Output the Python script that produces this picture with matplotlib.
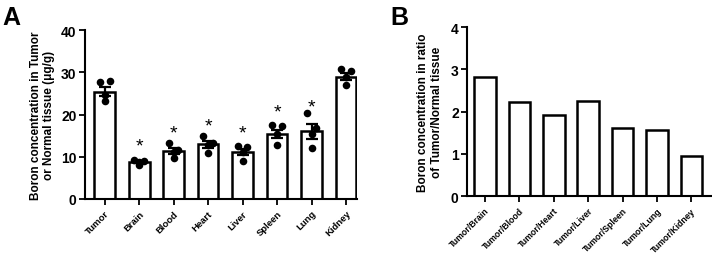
import matplotlib
matplotlib.use("Agg")
import matplotlib.pyplot as plt
import numpy as np

plt.rcParams['font.family'] = ['Liberation Sans', 'DejaVu Sans']
plt.rcParams['font.weight'] = 'bold'

# Panel A data
tissues = ["Tumor", "Brain", "Blood", "Heart", "Liver", "Spleen", "Lung", "Kidney"]
means_a = [25.4, 8.8, 11.3, 12.9, 11.2, 15.4, 16.0, 29.0]
sems_a = [1.1, 0.3, 0.7, 0.8, 0.7, 1.0, 1.7, 0.9]
points_a = [
    [27.6, 28.0, 24.6, 23.2],
    [9.3, 9.1, 8.8, 8.0],
    [13.2, 11.6, 11.0, 9.6],
    [15.0, 13.3, 12.8, 10.9],
    [12.6, 12.3, 11.0, 9.1],
    [17.6, 17.2, 15.5, 12.8],
    [20.3, 16.8, 15.5, 12.1],
    [30.9, 30.2, 28.8, 27.0],
]
significant = [False, True, True, True, True, True, True, False]
star_y = [None, 12.6, 15.6, 17.2, 15.6, 20.7, 21.9, None]

# Panel B data
ratios = ["Tumor/Brain", "Tumor/Blood", "Tumor/Heart", "Tumor/Liver",
          "Tumor/Spleen", "Tumor/Lung", "Tumor/Kidney"]
ratio_vals = [2.83, 2.22, 1.93, 2.25, 1.62, 1.56, 0.95]

fig = plt.figure(figsize=(7.12, 2.55), dpi=100)
axA = fig.add_axes([0.119, 0.216, 0.383, 0.662])
axB = fig.add_axes([0.656, 0.227, 0.343, 0.663])

lw = 1.8
xa = np.arange(len(tissues))
axA.bar(xa, means_a, width=0.6, facecolor='white', edgecolor='black', linewidth=lw, zorder=1)
axA.errorbar(xa, means_a, yerr=sems_a, fmt='none', ecolor='black', elinewidth=1.6,
             capsize=4.5, capthick=1.6, zorder=3)
offsets = [-0.14, 0.14, 0.0, 0.0]
for i, pts in enumerate(points_a):
    xs = [xa[i] + o for o in offsets]
    axA.scatter(xs, pts, s=30, color='black', zorder=4, linewidths=0)
for i, sig in enumerate(significant):
    if sig:
        axA.text(xa[i], star_y[i], "*", ha='center', va='center', fontsize=14, fontweight='normal')

axA.set_xlim(-0.58, 7.33)
axA.set_ylim(0, 40)
axA.set_yticks([0, 10, 20, 30, 40])
axA.set_xticks(xa)
axA.set_xticklabels(tissues, rotation=45, ha='right', rotation_mode='anchor', fontsize=6.8, fontweight='bold')
axA.set_ylabel("Boron concentration in Tumor\nor Normal tissue (μg/g)", fontsize=8.5, fontweight='bold', labelpad=4)

xb = np.arange(len(ratios))
axB.bar(xb, ratio_vals, width=0.63, facecolor='white', edgecolor='black', linewidth=lw)
axB.set_xlim(-0.52, 6.58)
axB.set_ylim(0, 4)
axB.set_yticks([0, 1, 2, 3, 4])
axB.set_xticks(xb)
axB.set_xticklabels(ratios, rotation=45, ha='right', rotation_mode='anchor', fontsize=6.3, fontweight='bold')
axB.set_ylabel("Boron concentration in ratio\nof Tumor/Normal tissue", fontsize=8.5, fontweight='bold', labelpad=6)

for ax in (axA, axB):
    for s in ('top', 'right'):
        ax.spines[s].set_visible(False)
    for s in ('left', 'bottom'):
        ax.spines[s].set_linewidth(1.5)
    ax.tick_params(axis='both', width=1.3, length=4, direction='out')
    ax.tick_params(axis='y', labelsize=10, pad=2)
    ax.tick_params(axis='x', pad=3)
    for lab in ax.get_yticklabels():
        lab.set_fontweight('bold')

fig.text(0.003, 0.975, "A", fontsize=18, fontweight='bold', va='top', ha='left')
fig.text(0.548, 0.975, "B", fontsize=18, fontweight='bold', va='top', ha='left')

fig.savefig("out.png", dpi=100)
